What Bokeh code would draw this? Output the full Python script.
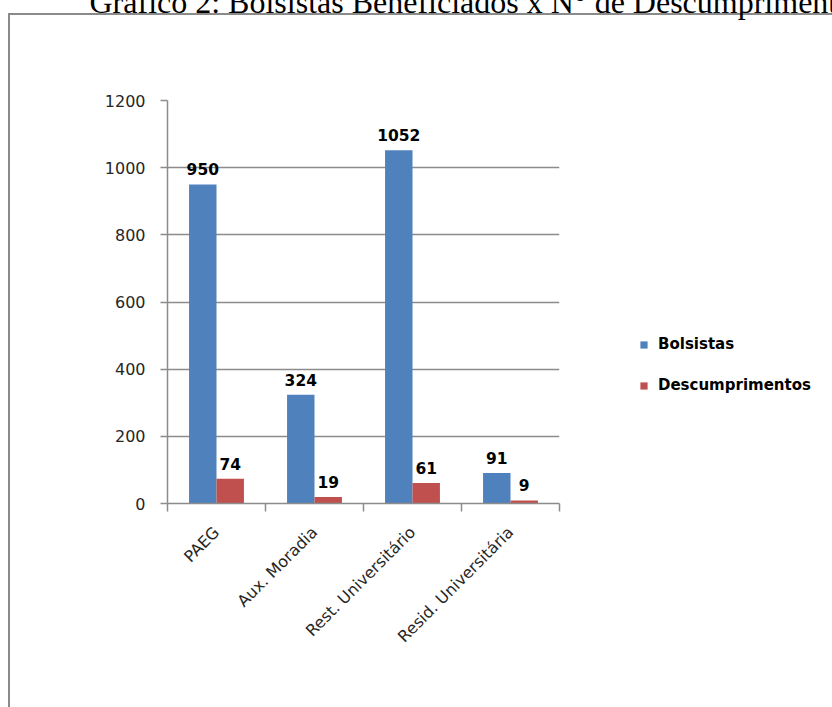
from bokeh.plotting import figure
from bokeh.models import ColumnDataSource, Range1d, FixedTicker, Legend, LegendItem
from bokeh.core.properties import value
from bokeh.embed import file_html
from bokeh.resources import INLINE

# Programas de assistência estudantil
categories = ["PAEG", "Aux. Moradia", "Rest. Universitário", "Resid. Universitária"]
bolsistas = [950, 324, 1052, 91]
descumprimentos = [74, 19, 61, 9]
y_ticks = [0, 200, 400, 600, 800, 1000, 1200]

title_text = "Gráfico 2: Bolsistas Beneficiados x N° de Descumprimentos"

BLUE = "#4F81BD"
RED = "#C0504D"
GRID = "#8c8c8c"
FRAME = "#8a8a8a"

SHIFT = 110  # the page heading sits partly above the top edge

centers = [i + 0.5 for i in range(len(categories))]
bar_w = 0.28
off = 0.14

src_b = ColumnDataSource(dict(x=[c - off for c in centers], top=bolsistas,
                              lbl=[str(v) for v in bolsistas]))
src_d = ColumnDataSource(dict(x=[c + off for c in centers], top=descumprimentos,
                              lbl=[str(v) for v in descumprimentos]))

p = figure(width=832, height=707 + SHIFT, output_backend="svg", toolbar_location=None,
           x_range=Range1d(0, len(categories)), y_range=Range1d(0, 1200),
           min_border_left=167, min_border_right=273, min_border_top=100 + SHIFT,
           min_border_bottom=204)
p.frame_width = 392
p.frame_height = 403
p.outline_line_color = None
p.background_fill_color = "white"
p.border_fill_color = None

# heading above the boxed chart
p.title.text = title_text
p.title.text_font = "Liberation Serif"
p.title.text_font_size = "32px"
p.title.text_font_style = "normal"
p.title.text_color = "black"
p.title.align = "left"
p.title.offset = -78
p.title.standoff = 162

# grey box around the chart (left and top edges)
p.styles = {
    "margin-top": f"-{SHIFT}px",
    "background-color": "white",
    "background-image": f"linear-gradient({FRAME},{FRAME}), linear-gradient({FRAME},{FRAME})",
    "background-size": "100% 2px, 2px 100%",
    "background-position": f"8px {13 + SHIFT}px, 8px {13 + SHIFT}px",
    "background-repeat": "no-repeat",
}

# grid
p.xgrid.visible = False
p.ygrid.ticker = FixedTicker(ticks=y_ticks)
p.ygrid.grid_line_color = GRID
p.ygrid.grid_line_width = 1.5

# y axis
p.yaxis.ticker = FixedTicker(ticks=y_ticks)
p.yaxis.axis_line_color = GRID
p.yaxis.axis_line_width = 1.5
p.yaxis.major_tick_line_color = GRID
p.yaxis.major_tick_line_width = 1.5
p.yaxis.major_tick_out = 7
p.yaxis.major_tick_in = 0
p.yaxis.minor_tick_line_color = None
p.yaxis.major_label_standoff = 15
p.yaxis.major_label_text_font = "DejaVu Sans"
p.yaxis.major_label_text_font_size = "16px"
p.yaxis.major_label_text_color = "#262626"

# x axis: labels at category centres, tick marks at category boundaries
p.xaxis.ticker = FixedTicker(ticks=centers,
                             minor_ticks=list(range(len(categories) + 1)))
p.xaxis.major_label_overrides = {c: name for c, name in zip(centers, categories)}
p.xaxis.major_tick_line_color = None
p.xaxis.minor_tick_line_color = GRID
p.xaxis.minor_tick_line_width = 1.5
p.xaxis.minor_tick_out = 8
p.xaxis.minor_tick_in = 0
p.xaxis.axis_line_color = GRID
p.xaxis.axis_line_width = 1.5
p.xaxis.major_label_orientation = 0.7854
p.xaxis.major_label_standoff = 18
p.xaxis.major_label_text_font = "DejaVu Sans"
p.xaxis.major_label_text_font_size = "16px"
p.xaxis.major_label_text_color = "#262626"

# bars
rb = p.vbar(x="x", top="top", width=bar_w, source=src_b, fill_color=BLUE,
            line_color=None)
rd = p.vbar(x="x", top="top", width=bar_w, source=src_d, fill_color=RED,
            line_color=None)

# value labels
for src in (src_b, src_d):
    p.text(x="x", y="top", text="lbl", source=src, text_align="center",
           text_baseline="alphabetic", y_offset=-15,
           text_font=value("DejaVu Sans"), text_font_style="bold",
           text_font_size="15.5px", text_color="black")

legend = Legend(items=[LegendItem(label="Bolsistas", renderers=[rb]),
                       LegendItem(label="Descumprimentos", renderers=[rd])],
                location=(80, 108), orientation="vertical",
                glyph_width=9, glyph_height=9, label_standoff=10,
                label_height=20, spacing=21, padding=0, margin=0,
                border_line_color=None, background_fill_alpha=0,
                label_text_font="DejaVu Sans", label_text_font_style="bold",
                label_text_font_size="15px", label_text_color="black")
p.add_layout(legend, "right")

open("out.html", "w").write(file_html(p, INLINE))
